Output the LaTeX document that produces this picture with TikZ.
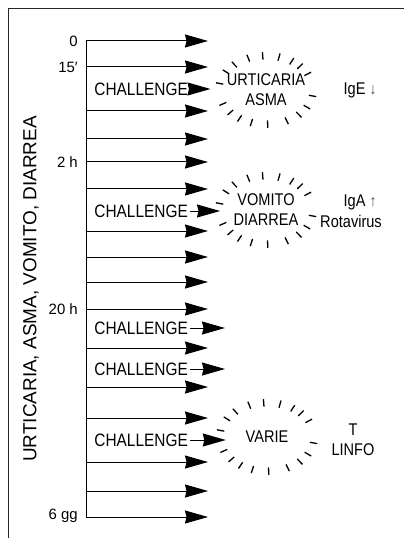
\documentclass[tikz,border=0pt]{standalone}
\usepackage{fontspec}
\setmainfont{Liberation Sans}
% a narrower cut of the same face for the capital labels
\newfontfamily\narrowsans{Liberation Sans}[FakeStretch=0.86]
\usetikzlibrary{arrows.meta,calc,shapes.geometric}

\tikzset{
  frameline/.style={line width=1bp, black!85},
  axisline/.style={line width=1bp},
  timearrow/.style={line width=1bp, -{Stealth[length=23bp,width=13bp,inset=1.5bp]}},
  timelbl/.style={anchor=east, inner sep=0pt, font=\fontsize{15}{15}\selectfont},
  chal/.style={anchor=east, inner sep=2bp, font=\narrowsans\fontsize{18}{18}\selectfont},
  burst/.style={ellipse, minimum width=82bp, minimum height=64bp, inner sep=0pt,
    align=center, font=\narrowsans\fontsize{17}{20}\selectfont},
  side/.style={align=center, inner sep=0pt, font=\narrowsans\fontsize{17}{20}\selectfont},
  burstray/.style={line width=1.3bp},
}
% thin arrow glyph next to the immunoglobulin names
\newcommand{\thinarr}[1]{{\fontsize{16}{16}\selectfont\color{black!70}#1}}

\newcommand{\raysaround}[1]{%
  \foreach \a in {10,30,46,64,88,108,124,139,156,191,212,228,248,266,286,303,316,332}
    \draw[burstray] ($(#1)+(\a:43.5 and 30.5)$) -- ($(#1)+(\a:51 and 38)$);%
}

\begin{document}
\begin{tikzpicture}[x=1bp,y=-1bp]
  \useasboundingbox (0,0) rectangle (404,538);

  % open frame: top and left edges
  \draw[frameline] (8,538) -- (8,9) -- (404,9);

  % vertical label
  \node[rotate=90, font=\fontsize{19}{19}\selectfont] (sym) at (31,289)
    {URTICARIA, ASMA, VOMITO, DIARREA};

  % time axis
  \coordinate (top) at (86,41);
  \coordinate (bot) at (86,517);
  \draw[axisline] (top) -- (bot);

  % regular time arrows
  \foreach \y [count=\i] in {41,67,111,139,162,189,231,257,282,309,348,387,418,462,491,517} {
    \coordinate (s\i) at (86,\y);
    \coordinate (e\i) at (208,\y);
    \draw[timearrow] (s\i) -- (e\i);
  }

  % time labels
  \node[timelbl] (t0)  at (78,41)  {0};
  \node[timelbl] (t15) at (78,67)  {15′};
  \node[timelbl] (t2h) at (78,162) {2 h};
  \node[timelbl] (t20) at (78,309) {20 h};
  \node[timelbl] (t6g) at (78,516) {6 gg};

  % reaction bursts
  \node[burst] (b1) at (266,90)  {URTICARIA\\ASMA};
  \node[burst] (b2) at (266,210) {VOMITO\\DIARREA};
  \node[burst] (b3) at (267,437) {VARIE};
  \raysaround{b1}
  \raysaround{b2}
  \raysaround{b3}

  % challenges
  \node[chal] (c1) at (190,89)  {CHALLENGE};
  \node[chal] (c2) at (190,211) {CHALLENGE};
  \node[chal] (c3) at (190,328) {CHALLENGE};
  \node[chal] (c4) at (190,369) {CHALLENGE};
  \node[chal] (c5) at (190,440) {CHALLENGE};
  \coordinate (x3) at (225,328);
  \coordinate (x4) at (225,369);
  \draw[timearrow] (c1.east) -- (b1.west |- c1.east);
  \draw[timearrow] (c2.east) -- (b2.west |- c2.east);
  \draw[timearrow] (c3.east) -- (x3);
  \draw[timearrow] (c4.east) -- (x4);
  \draw[timearrow] (c5.east) -- (b3.west |- c5.east);

  % immunological notes
  \node[side] (ige) at (360,90) {IgE \thinarr{↓}};
  \node[side] (iga) at (360,202) {IgA \thinarr{↑}};
  \node[side] (rota) at (351,221) {Rotavirus};
  \node[side] (tl) at (353,440) {T\\LINFO};
\end{tikzpicture}
\end{document}
